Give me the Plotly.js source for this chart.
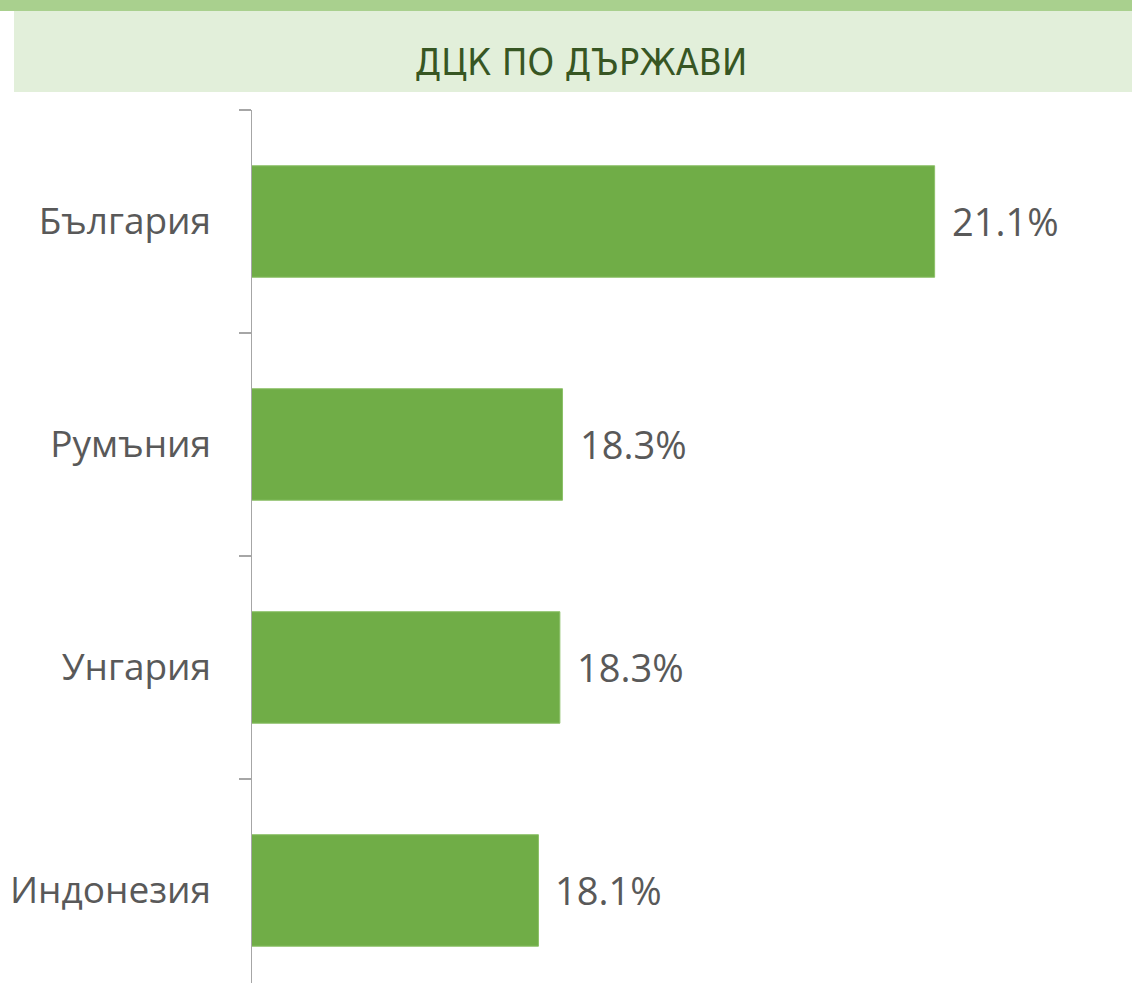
<!DOCTYPE html>
<html>
<head>
<meta charset="utf-8">
<script src="https://cdn.plot.ly/plotly-3.0.1.min.js"></script>
<style>
  html, body { margin: 0; padding: 0; background: #ffffff; }
  #chart { width: 1132px; height: 983px; }
</style>
</head>
<body>
<div id="chart"></div>
<script>
// Data (bottom-to-top order in plot: Индонезия ... България)
const countries = ["Индонезия", "Унгария", "Румъния", "България"];
const shares = [18.14, 18.3, 18.32, 21.1];
const shareLabels = ["18.1%", "18.3%", "18.3%", "21.1%"];
const chartTitle = "ДЦК ПО ДЪРЖАВИ";

const W = 1132, H = 983;
const mL = 252, mR = 10, mT = 110, mB = 0;
const pw = W - mL - mR, ph = H - mT - mB;
const px = x => (x - mL) / pw;        // pixel x -> paper x
const py = y => (H - mB - y) / ph;    // pixel y -> paper y

const trace = {
  type: "bar",
  orientation: "h",
  y: countries,
  x: shares,
  marker: { color: "#70AD47", line: { color: "#8cc068", width: 1 } },
  hoverinfo: "skip",
  cliponaxis: false
};

const annotations = countries.map((c, i) => ({
  x: shares[i], y: c, xref: "x", yref: "y",
  text: shareLabels[i], showarrow: false,
  xanchor: "left", yanchor: "middle", xshift: 15,
  font: { family: "Open Sans, sans-serif", size: 38, color: "#595959" }
}));

const layout = {
  width: W, height: H,
  margin: { l: mL, r: mR, t: mT, b: mB, pad: 0 },
  paper_bgcolor: "#ffffff",
  plot_bgcolor: "#ffffff",
  showlegend: false,
  bargap: 0.5,
  title: {
    text: chartTitle,
    x: 581 / W, xanchor: "center",
    y: 1 - 62 / H, yanchor: "middle",
    xref: "container", yref: "container",
    font: { family: "Liberation Sans Narrow, DejaVu Sans Condensed, sans-serif", size: 37.5, color: "#375623" }
  },
  xaxis: {
    range: [16, 16 + pw / 133.85],
    showgrid: false, zeroline: false, showline: false,
    showticklabels: false, ticks: "", fixedrange: true
  },
  yaxis: {
    type: "category",
    categoryorder: "array", categoryarray: countries,
    range: [-0.415, 3.5],
    showgrid: false, zeroline: false,
    showline: true, linecolor: "#a6a6a6", linewidth: 1.5,
    ticks: "outside", tickson: "boundaries", ticklen: 12, tickwidth: 1.5, tickcolor: "#a6a6a6",
    ticklabelstandoff: 32,
    tickfont: { family: "Open Sans, sans-serif", size: 37, color: "#595959" },
    fixedrange: true
  },
  shapes: [
    { type: "rect", xref: "paper", yref: "paper", layer: "below",
      x0: px(14), x1: px(W), y0: py(92), y1: py(10),
      fillcolor: "#E2EFDA", line: { width: 0 } },
    { type: "rect", xref: "paper", yref: "paper", layer: "below",
      x0: px(0), x1: px(W), y0: py(11), y1: py(0),
      fillcolor: "#A9D08E", line: { width: 0 } }
  ],
  annotations: annotations
};

Plotly.newPlot("chart", [trace], layout, { displayModeBar: false, staticPlot: true });
</script>
</body>
</html>
